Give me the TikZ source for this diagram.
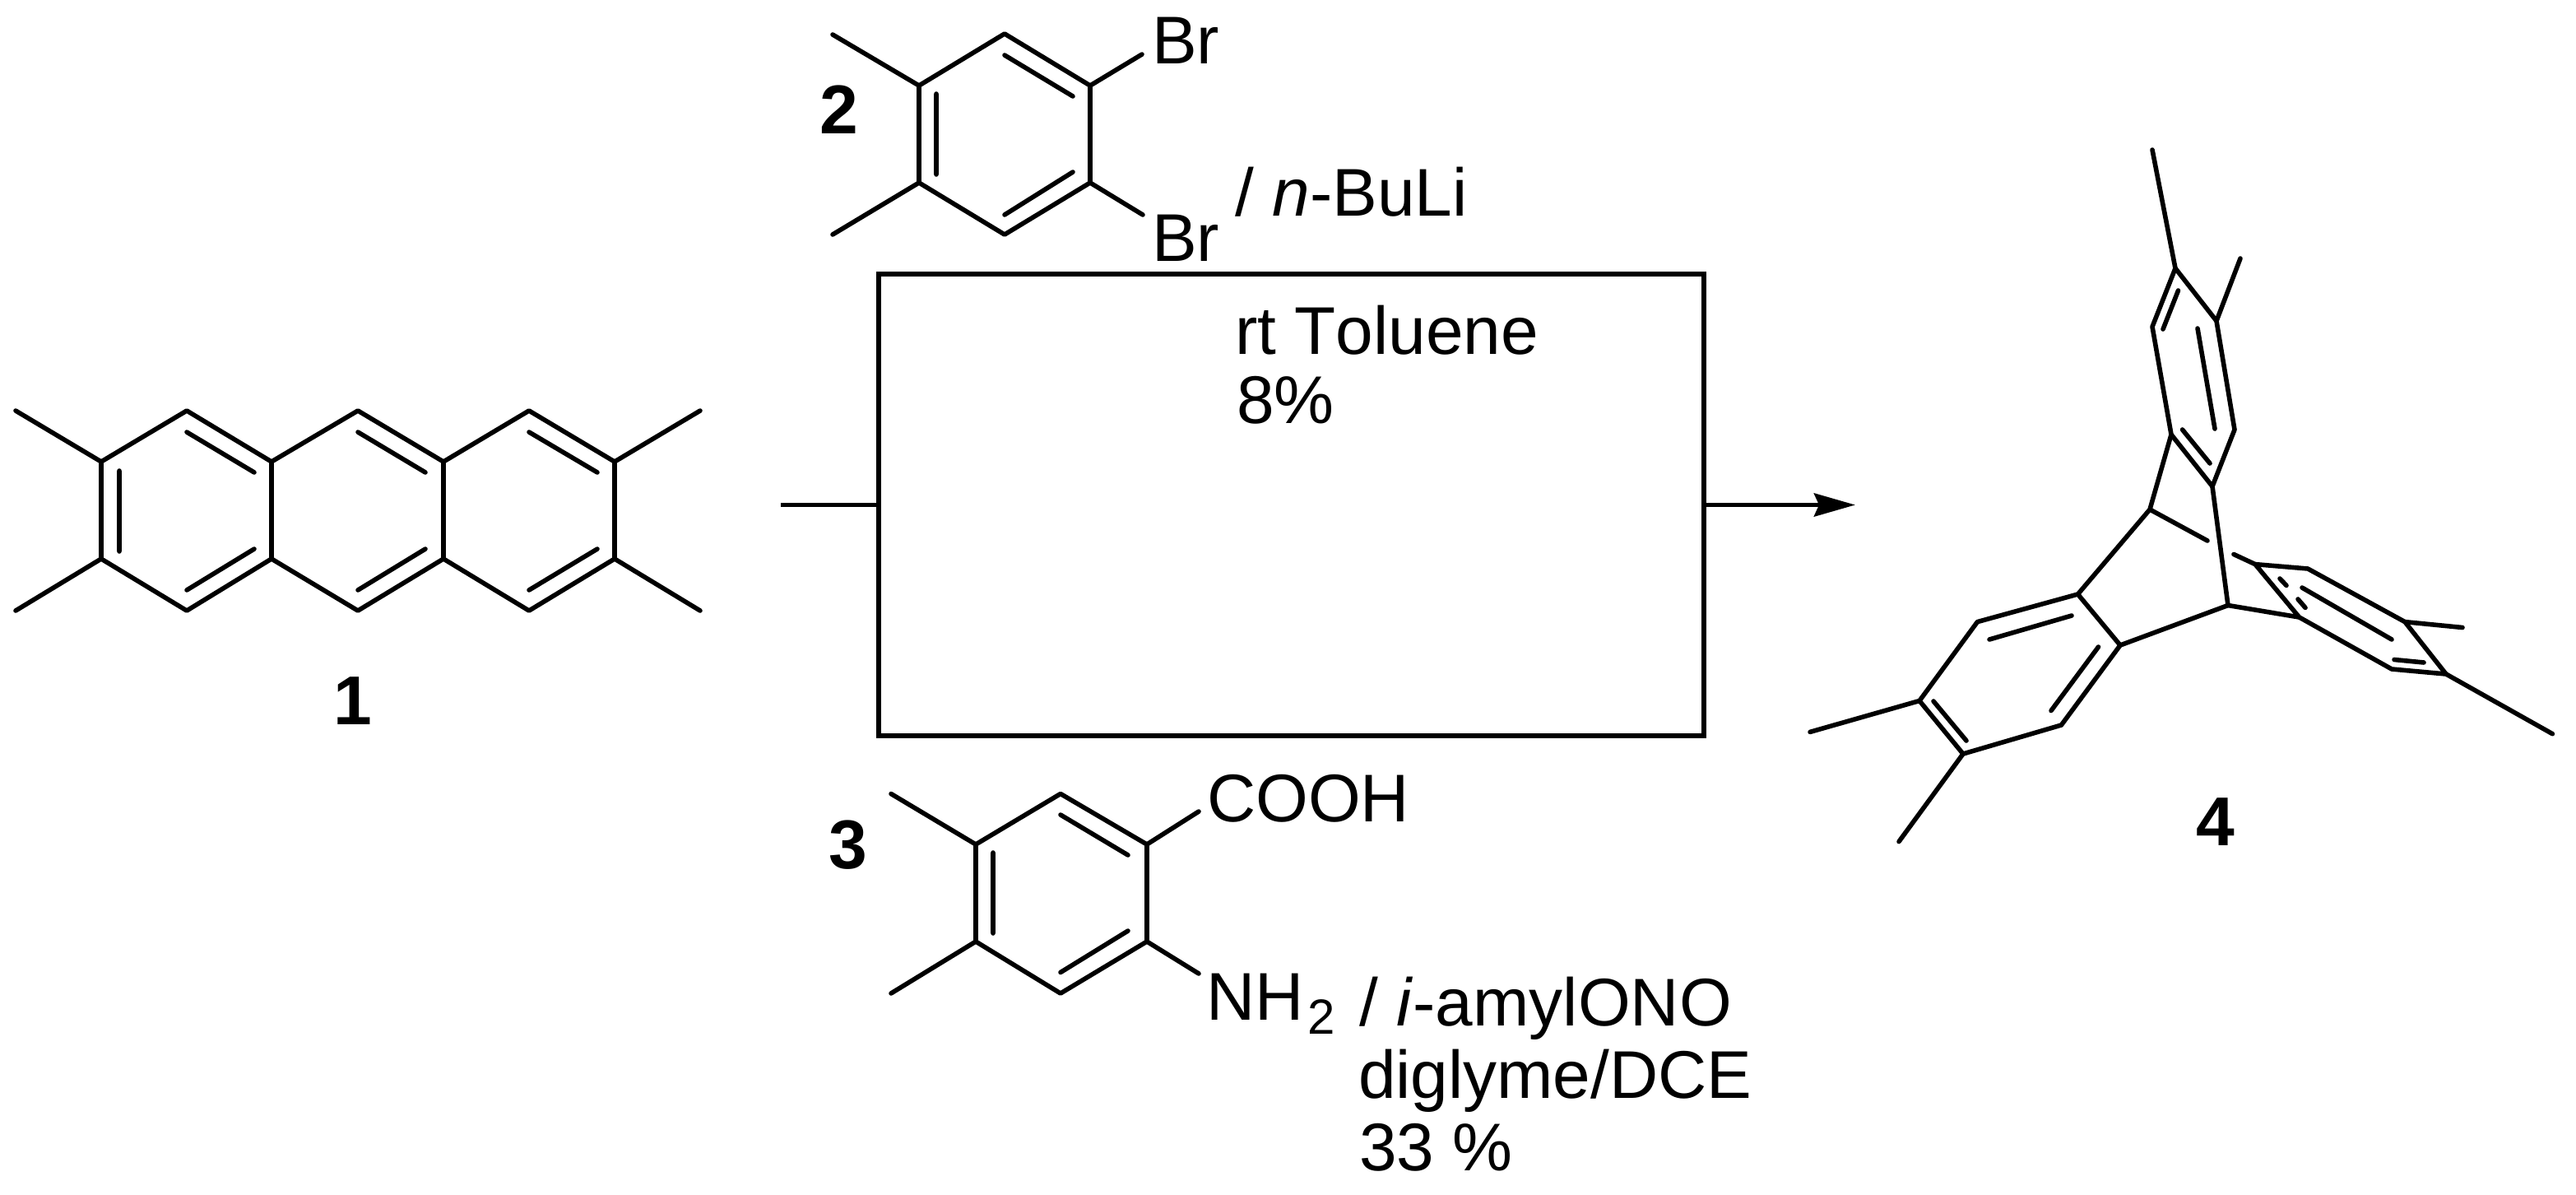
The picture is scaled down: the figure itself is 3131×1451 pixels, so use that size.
\documentclass[tikz,border=0pt]{standalone}
\usepackage{fontspec}
\setmainfont[Kerning=Off]{Liberation Sans}
\usetikzlibrary{arrows.meta}
\tikzset{
  bond/.style={line width=2.8pt,line cap=round,line join=round,black},
  lab/.style={anchor=base west,inner sep=0pt,outer sep=0pt,font=\fontsize{41}{41}\selectfont},
  num/.style={lab,font=\fontsize{42}{42}\selectfont\bfseries},
  sub/.style={lab,font=\fontsize{30}{30}\selectfont},
  rxnbox/.style={draw=black,line width=2.9pt,minimum width=501.5pt,minimum height=280.5pt,inner sep=0pt,outer sep=0pt},
  rxnline/.style={line width=2.9pt,black},
}
\begin{document}
\begin{tikzpicture}[x=0.5pt,y=-0.5pt]
\useasboundingbox (0,0) rectangle (3131,1451);
% ---------- molecule 1
\coordinate (a1) at (123,561); \coordinate (a2) at (227,499); \coordinate (a3) at (330,561);
\coordinate (a4) at (435,499); \coordinate (a5) at (539,561); \coordinate (a6) at (643,499);
\coordinate (a7) at (747,561); \coordinate (a8) at (747,679); \coordinate (a9) at (643,742);
\coordinate (a10) at (539,679); \coordinate (a11) at (435,742); \coordinate (a12) at (330,679);
\coordinate (a13) at (227,742); \coordinate (a14) at (123,679);
\coordinate (am1) at (19,499); \coordinate (am2) at (19,742); \coordinate (am3) at (851,499); \coordinate (am4) at (851,742);
\draw[bond] (a1)--(a2)--(a3)--(a4)--(a5)--(a6)--(a7)--(a8)--(a9)--(a10)--(a11)--(a12)--(a13)--(a14)--cycle;
\draw[bond] (a3)--(a12) (a5)--(a10);
\draw[bond] (a1)--(am1) (a14)--(am2) (a7)--(am3) (a8)--(am4);
\draw[bond] (145,572)--(145,670) (227,525)--(309,574) (227,717)--(309,667)
  (435,525)--(517,574) (435,717)--(517,667) (643,525)--(726,574) (643,717)--(726,667);
\node[num] (n1) at (405,880) {1};
% ---------- molecule 2
\coordinate (b1) at (1117,104); \coordinate (b2) at (1221,41); \coordinate (b3) at (1325,104);
\coordinate (b4) at (1325,222); \coordinate (b5) at (1221,285); \coordinate (b6) at (1117,222);
\coordinate (bm1) at (1012,42); \coordinate (bm2) at (1012,285);
\coordinate (bb1) at (1388,66); \coordinate (bb2) at (1389,261);
\draw[bond] (b1)--(b2)--(b3)--(b4)--(b5)--(b6)--cycle;
\draw[bond] (b1)--(bm1) (b6)--(bm2) (b3)--(bb1) (b4)--(bb2);
\draw[bond] (1138,114)--(1138,212) (1221,67)--(1304,117) (1221,261)--(1304,209);
\node[lab] (br1) at (1400,77) {Br};
\node[lab] (br2) at (1400,317) {Br};
\node[lab] (buli) at (1501,262) {/ \textit{n}-BuLi};
\node[num] (n2) at (996,162) {2};
% ---------- reaction box
\node[rxnbox] (box) at (1569.5,613.5) {};
\coordinate (start) at (949,613.5);
\coordinate (tip) at (2255,613.5);
\draw[rxnline] (start)--(box.west);
\draw[rxnline,-{Stealth[length=25pt,width=14pt,inset=3pt]}] (box.east)--(tip);
\node[lab] (t1) at (1501,430) {rt Toluene};
\node[lab] (t2) at (1503,514) {8\%};
% ---------- molecule 3
\coordinate (c1) at (1186,1026); \coordinate (c2) at (1289,964.5); \coordinate (c3) at (1394,1026);
\coordinate (c4) at (1394,1144); \coordinate (c5) at (1289,1207); \coordinate (c6) at (1186,1144);
\coordinate (cm1) at (1083,964.5); \coordinate (cm2) at (1083,1207);
\coordinate (cs1) at (1457,986); \coordinate (cs2) at (1457,1183);
\draw[bond] (c1)--(c2)--(c3)--(c4)--(c5)--(c6)--cycle;
\draw[bond] (c1)--(cm1) (c6)--(cm2) (c3)--(cs1) (c4)--(cs2);
\draw[bond] (1207,1036)--(1207,1134) (1289,990)--(1371,1039) (1289,1181.5)--(1371,1131);
\node[lab] (cooh) at (1467,998) {COOH};
\node[lab] (nh) at (1466,1239) {NH};
\node[sub] (nhs) at (1589,1256) {2};
\node[lab] (am) at (1652,1246) {/ \textit{i}-amylONO};
\node[lab] (dg) at (1651,1334.5) {diglyme/DCE};
\node[lab] (pc) at (1652,1422.5) {33 \%};
\node[num] (n3) at (1007,1055) {3};
% ---------- molecule 4
\coordinate (dA) at (2644,326); \coordinate (dB) at (2694,390); \coordinate (dC) at (2716,522);
\coordinate (dD) at (2689,591); \coordinate (dE) at (2639,528); \coordinate (dF) at (2616,397);
\coordinate (dAm) at (2616,182); \coordinate (dBm) at (2723,314);
\coordinate (dG) at (2613,619); \coordinate (dH) at (2708,735.5); \coordinate (dGe) at (2683,657);
\coordinate (dI) at (2525.5,722); \coordinate (dJ) at (2577,784); \coordinate (dK) at (2403.4,755.6);
\coordinate (dL) at (2333,851.5); \coordinate (dM) at (2386,916); \coordinate (dN) at (2505.4,881);
\coordinate (dLm) at (2200,889.4); \coordinate (dMm) at (2308,1022.6);
\coordinate (dO) at (2715,673.5); \coordinate (dP) at (2741,685.6); \coordinate (dQ) at (2805,691);
\coordinate (dR) at (2923,755.6); \coordinate (dS) at (2973,819); \coordinate (dT) at (2907,813);
\coordinate (dU) at (2794.6,750); \coordinate (dRm) at (2993,762.5); \coordinate (dSm) at (3102.4,891.7);
\draw[bond] (dA)--(dB)--(dC)--(dD)--(dE)--(dF)--cycle;
\draw[bond] (dA)--(dAm) (dB)--(dBm) (dE)--(dG) (dD)--(dH) (dG)--(dGe) (dG)--(dI) (dH)--(dJ);
\draw[bond] (dI)--(dK)--(dL)--(dM)--(dN)--(dJ)--cycle;
\draw[bond] (dL)--(dLm) (dM)--(dMm);
\draw[bond] (dO)--(dP) (dH)--(dU);
\draw[bond] (dP)--(dQ)--(dR)--(dS)--(dT)--(dU)--cycle;
\draw[bond] (dR)--(dRm) (dS)--(dSm);
\draw[bond] (2647.5,353)--(2629,400) (2671,399)--(2692,521) (2652.5,522)--(2686,563);
\draw[bond] (2418,777)--(2518,748) (2550.5,786)--(2493,863.5) (2350,852)--(2390,900);
\draw[bond] (2771,703)--(2779,711.4) (2793,728)--(2802,738.4) (2798,714)--(2907,777) (2910,801.5)--(2946,805);
\node[num] (n4) at (2669,1027) {4};
\end{tikzpicture}
\end{document}
